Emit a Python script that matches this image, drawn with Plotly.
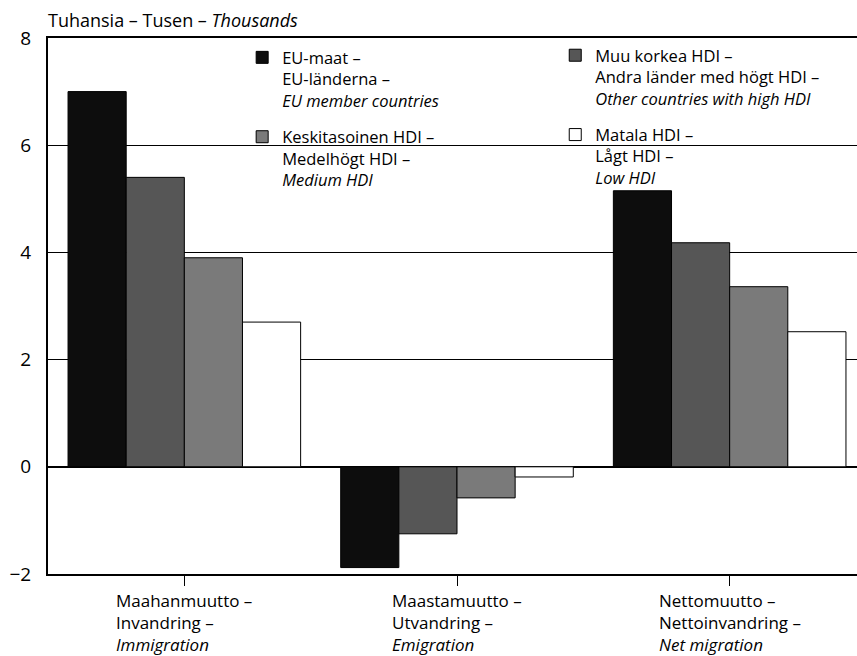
import plotly.graph_objects as go

categories = ["Maahanmuutto", "Maastamuutto", "Nettomuutto"]
category_labels = [
    "Maahanmuutto –<br>Invandring –<br><i>Immigration</i>",
    "Maastamuutto –<br>Utvandring –<br><i>Emigration</i>",
    "Nettomuutto –<br>Nettoinvandring –<br><i>Net migration</i>",
]

series_names = [
    "EU-maat –<br>EU-länderna –<br><i>EU member countries</i>",
    "Muu korkea HDI –<br>Andra länder med högt HDI –<br><i>Other countries with high HDI</i>",
    "Keskitasoinen HDI –<br>Medelhögt HDI –<br><i>Medium HDI</i>",
    "Matala HDI –<br>Lågt HDI –<br><i>Low HDI</i>",
]
eu_values = [7.0, -1.88, 5.15]
high_values = [5.4, -1.25, 4.18]
medium_values = [3.9, -0.58, 3.36]
low_values = [2.7, -0.19, 2.52]

y_ticks = [-2, 0, 2, 4, 6, 8]

colors = ["#0d0d0d", "#565656", "#7a7a7a", "#ffffff"]
legends = ["legend", "legend2", "legend", "legend2"]
groups = ["eu", "high", "med", "low"]
all_values = [eu_values, high_values, medium_values, low_values]

FONT = "Open Sans, Noto Sans, DejaVu Sans, sans-serif"

fig = go.Figure()
for name, vals, col, lg, grp in zip(series_names, all_values, colors, legends, groups):
    fig.add_trace(go.Bar(
        x=categories, y=vals, name=name,
        marker=dict(color=col, line=dict(color="black", width=1)),
        legend=lg, legendgroup=grp,
    ))

for cat, lab in zip(categories, category_labels):
    fig.add_annotation(
        x=cat, xref="x", y=0, yref="paper", yanchor="top", yshift=-13,
        text=lab, showarrow=False, align="left", xanchor="center",
        font=dict(family=FONT, size=17, color="black"),
    )

legend_common = dict(
    font=dict(family=FONT, size=16.5, color="black"),
    bgcolor="rgba(0,0,0,0)", borderwidth=0,
    orientation="v", yanchor="top", xanchor="left",
    tracegroupgap=12, valign="top", itemclick=False,
)

fig.update_layout(
    width=857, height=656,
    margin=dict(l=48, r=0, t=38, b=82),
    plot_bgcolor="white", paper_bgcolor="white",
    barmode="group", bargap=0.147, bargroupgap=0,
    font=dict(family=FONT, color="black"),
    title=dict(
        text="Tuhansia – Tusen – <i>Thousands</i>",
        x=48 / 857, xanchor="left", y=1 - 21 / 656, yanchor="middle",
        font=dict(family=FONT, size=18, color="black"),
    ),
    legend=dict(x=0.24, y=0.996, **legend_common),
    legend2=dict(x=0.627, y=1.0, **legend_common),
    xaxis=dict(
        range=[-0.5, 2.467], showticklabels=False,
        ticks="outside", ticklen=10, tickcolor="black", tickwidth=1,
        showline=True, linecolor="black", linewidth=2, mirror=True,
        showgrid=False, zeroline=False,
    ),
    yaxis=dict(
        range=[-2, 8], tickvals=y_ticks, ticks="",
        ticklabelstandoff=11,
        tickfont=dict(family=FONT, size=19, color="black"),
        showgrid=True, gridcolor="black", gridwidth=1,
        zeroline=True, zerolinecolor="black", zerolinewidth=2,
        showline=True, linecolor="black", linewidth=2,
    ),
)

fig.write_html(
    "out.html",
    config={"displayModeBar": False},
    post_script="document.body.style.margin='0';document.body.style.padding='0';",
)
